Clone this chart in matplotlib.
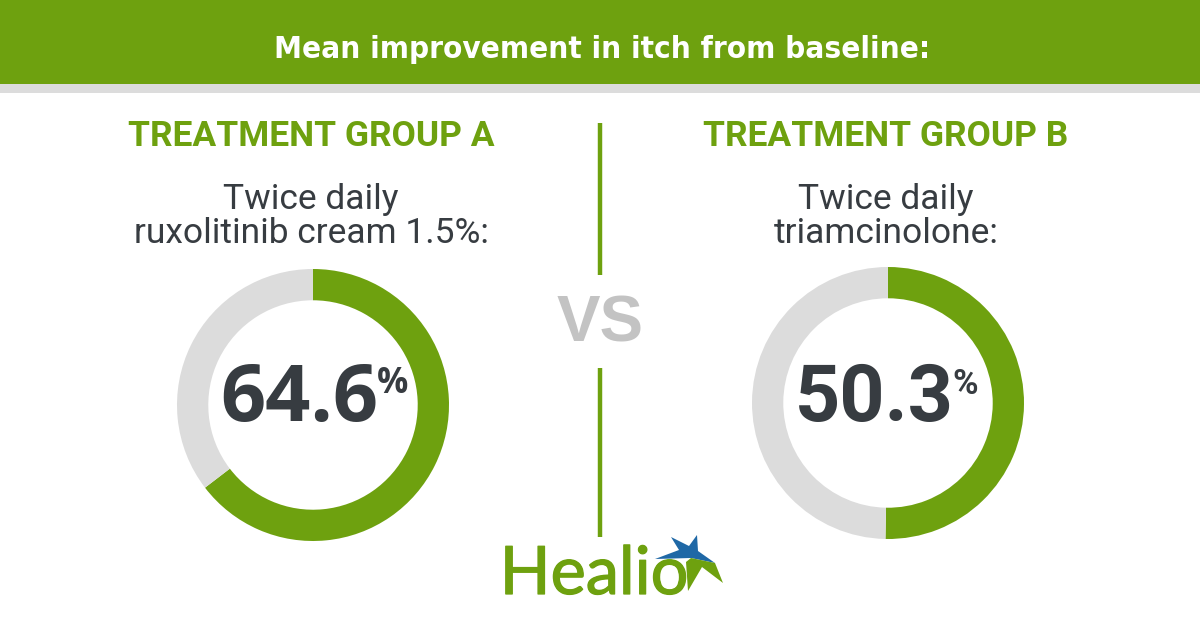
import matplotlib
matplotlib.use("Agg")
from matplotlib import pyplot as plt
from matplotlib.patches import Rectangle, Polygon
import matplotlib.patheffects as pe

# chart data
title = "Mean improvement in itch from baseline:"
groups = ["TREATMENT GROUP A", "TREATMENT GROUP B"]
treatments = ["Twice daily\nruxolitinib cream 1.5%:", "Twice daily\ntriamcinolone:"]
improvement = [64.6, 50.3]
value_fonts = ["Open Sans", "Roboto"]

GREEN = "#6ea10f"
LIGHT = "#dcdcdc"
DARK = "#373c41"

fig = plt.figure(figsize=(12, 6.3), dpi=100)

# background axes in pixel coordinates (y down)
bg = fig.add_axes([0, 0, 1, 1])
bg.set_xlim(0, 1200)
bg.set_ylim(630, 0)
bg.axis("off")

# header band
bg.add_patch(Rectangle((0, 0), 1200, 84, color=GREEN, lw=0))
bg.add_patch(Rectangle((0, 84), 1200, 9, color=LIGHT, lw=0))
bg.text(602, 50, title, color="white", fontsize=22.5, fontweight="bold",
        family="DejaVu Sans", fontstretch="condensed", ha="center", va="center")

# divider with VS
bg.plot([600, 600], [123, 275], color=GREEN, lw=3.2, solid_capstyle="butt")
bg.plot([600, 600], [368, 537], color=GREEN, lw=3.2, solid_capstyle="butt")
bg.text(600, 325, "VS", color="#c3c3c3", fontsize=47, fontweight="bold",
        family="Liberation Sans", ha="center", va="center")

centers = [(313, 405), (888, 403)]
radius = 136

for i in range(2):
    cx, cy = centers[i]
    bg.text(cx - 2, 137, groups[i], color=GREEN, fontsize=25.5, fontweight="bold",
            family="Roboto", ha="center", va="center")
    bg.text(cx - 2, 243, treatments[i], color=DARK, fontsize=25.5, family="Roboto",
            ha="center", va="baseline", multialignment="center", linespacing=1.05)

    # donut
    ax = fig.add_axes([(cx - radius) / 1200, (630 - cy - radius) / 630,
                       2 * radius / 1200, 2 * radius / 630])
    ax.pie([improvement[i], 100 - improvement[i]], colors=[GREEN, LIGHT],
           startangle=90, counterclock=False, radius=1,
           wedgeprops=dict(width=0.23, linewidth=0))
    ax.set_xlim(-1, 1)
    ax.set_ylim(-1, 1)
    ax.axis("off")

    # value label
    num = bg.text(cx - 14, 400, "%.1f" % improvement[i], color=DARK, fontsize=57,
                  fontweight="bold", family=value_fonts[i], ha="center", va="center")
    bg.annotate("%", xy=(1, 1), xycoords=num, xytext=(-1, -4), textcoords="offset points",
                color=DARK, fontsize=25, fontweight="bold", family=value_fonts[i],
                ha="left", va="top")

# Healio logo
bg.text(594, 575, "Healio", color=GREEN, fontsize=48, family="Lato",
        ha="center", va="center",
        path_effects=[pe.withStroke(linewidth=0.9, foreground=GREEN)])
blue_part = [(655, 559), (679, 550), (671, 537), (689, 546), (697, 535),
             (698, 551), (715, 563), (691, 558)]
green_part = [(691, 558), (715, 563), (723, 583), (702, 567), (688, 591), (686, 562)]
bg.add_patch(Polygon(blue_part, closed=True, color="#1f68a6", lw=0))
bg.add_patch(Polygon(green_part, closed=True, color=GREEN, lw=0))

fig.savefig("out.png", dpi=100)
